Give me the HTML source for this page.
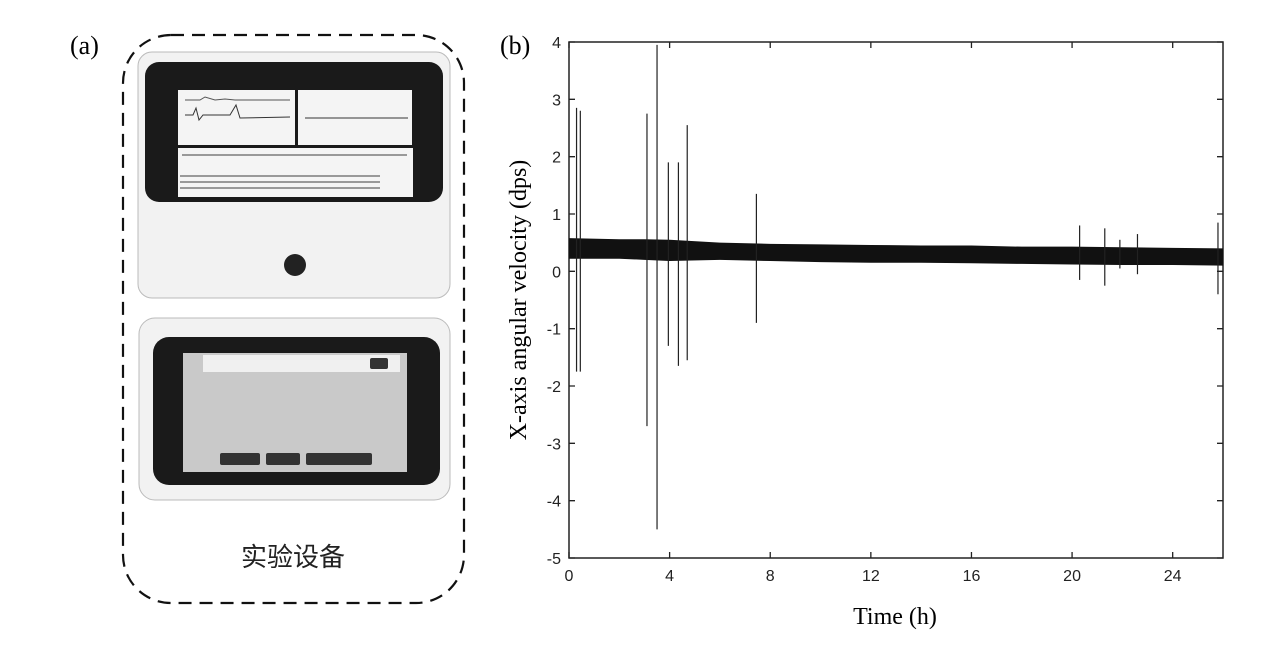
<!DOCTYPE html>
<html><head><meta charset="utf-8">
<style>
html,body{margin:0;padding:0;background:#fff;}
body{width:1281px;height:654px;overflow:hidden;position:relative;font-family:"Liberation Serif",serif;}
svg{position:absolute;left:0;top:0;}
</style></head>
<body>
<svg width="1281" height="654" viewBox="0 0 1281 654">
 <g>
  <text x="70" y="54" font-size="26" font-family="Liberation Serif, serif">(a)</text>
  <rect x="123" y="35" width="341" height="568" rx="48" fill="none" stroke="#111" stroke-width="2.2" stroke-dasharray="13,8"/>
  <g>
   <rect x="138" y="52" width="312" height="246" rx="14" fill="#f2f2f2" stroke="#bbb"/>
   <rect x="145" y="62" width="298" height="140" rx="14" fill="#1a1a1a"/>
   <rect x="178" y="90" width="117" height="55" fill="#f4f4f4"/>
   <rect x="298" y="90" width="114" height="55" fill="#f4f4f4"/>
   <polyline points="185,100 200,100 205,97 215,100 225,99 235,100 290,100" fill="none" stroke="#555"/>
   <polyline points="185,115 193,115 196,108 199,120 203,115 230,115 236,105 240,118 290,117" fill="none" stroke="#333"/>
   <line x1="305" y1="118" x2="408" y2="118" stroke="#333"/>
   <rect x="178" y="148" width="235" height="49" fill="#f4f4f4"/>
   <g fill="#999">
    <rect x="180" y="175" width="200" height="2"/><rect x="180" y="181" width="200" height="2"/><rect x="180" y="187" width="200" height="2"/><rect x="182" y="154" width="225" height="2"/>
   </g>
   <circle cx="295" cy="265" r="11" fill="#222"/>
  </g>
  <g>
   <rect x="139" y="318" width="311" height="182" rx="16" fill="#f2f2f2" stroke="#bbb"/>
   <rect x="153" y="337" width="287" height="148" rx="16" fill="#1a1a1a"/>
   <rect x="183" y="353" width="224" height="119" fill="#c9c9c9"/>
   <rect x="203" y="355" width="197" height="17" fill="#f0f0f0"/>
   <rect x="370" y="358" width="18" height="11" rx="2" fill="#333"/>
   <rect x="220" y="453" width="40" height="12" rx="2" fill="#333"/>
   <rect x="266" y="453" width="34" height="12" rx="2" fill="#333"/>
   <rect x="306" y="453" width="66" height="12" rx="2" fill="#333"/>
  </g>
  <text x="293" y="566" font-size="26" text-anchor="middle" font-family="Liberation Sans, Noto Sans CJK SC, sans-serif" fill="#222">实验设备</text>
 </g>
 <g id="chart">
  <text x="500" y="54" font-size="26" font-family="Liberation Serif, serif">(b)</text>
  <text transform="translate(526,300) rotate(-90)" font-size="24" text-anchor="middle" font-family="Liberation Serif, serif">X-axis angular velocity (dps)</text>
  <text x="895" y="624" font-size="24" text-anchor="middle" font-family="Liberation Serif, serif">Time (h)</text>
 </g>
</svg>
<script>
const xTicks = [0,4,8,12,16,20,24];
const yTicks = [4,3,2,1,0,-1,-2,-3,-4,-5];
const bandHours = [0,2,3,4,6,8,10,12,14,16,18,20,22,24,26];
const bandTop =    [0.58,0.56,0.56,0.55,0.5,0.48,0.47,0.46,0.45,0.45,0.43,0.43,0.42,0.41,0.40];
const bandBottom = [0.22,0.22,0.2,0.18,0.2,0.18,0.16,0.15,0.15,0.14,0.13,0.12,0.11,0.11,0.10];
const spikeHours = [0.3,0.45,3.1,3.5,3.95,4.35,4.7,7.45,20.3,21.3,21.9,22.6,25.8];
const spikeMax =   [2.85,2.8,2.75,3.95,1.9,1.9,2.55,1.35,0.8,0.75,0.55,0.65,0.85];
const spikeMin =   [-1.75,-1.75,-2.7,-4.5,-1.3,-1.65,-1.55,-0.9,-0.15,-0.25,0.05,-0.05,-0.4];

const X0=569,X1=1223,Y0=42,Y1=558;
const sx=h=>X0+(h/26)*(X1-X0);
const sy=v=>Y0+(4-v)/9*(Y1-Y0);
const NS='http://www.w3.org/2000/svg';
const g=document.getElementById('chart');
function mk(t,a){const e=document.createElementNS(NS,t);for(const k in a)e.setAttribute(k,a[k]);g.appendChild(e);return e;}

const frame=mk('rect',{x:X0,y:Y0,width:X1-X0,height:Y1-Y0,fill:'none',stroke:'#222','stroke-width':1.5});



xTicks.forEach(t=>{
 const x=sx(t);
 const l=mk('path',{d:`M${x},${Y1}v-6M${x},${Y0}v6`,stroke:'#222','stroke-width':1.3});
 
 
 const tx=mk('text',{x:x,y:Y1+23,'font-size':16,'text-anchor':'middle','font-family':'Liberation Sans, sans-serif',fill:'#222'});
 tx.textContent=t;
 
 
});
yTicks.forEach(t=>{
 const y=sy(t);
 const l=mk('path',{d:`M${X0},${y}h6M${X1},${y}h-6`,stroke:'#222','stroke-width':1.3});
 
 
 const tx=mk('text',{x:X0-8,y:y+6,'font-size':16,'text-anchor':'end','font-family':'Liberation Sans, sans-serif',fill:'#222'});
 tx.textContent=t;
 
 
});

let d='M'+bandHours.map((h,i)=>sx(h)+','+sy(bandTop[i])).join('L');
for(let i=bandHours.length-1;i>=0;i--) d+='L'+sx(bandHours[i])+','+sy(bandBottom[i]);
const band=mk('path',{d:d+'Z',fill:'#111'});



spikeHours.forEach((h,i)=>{
 const s=mk('line',{x1:sx(h),x2:sx(h),y1:sy(spikeMax[i]),y2:sy(spikeMin[i]),stroke:'#222','stroke-width':1.2});
 
 
});
</script>
</body></html>
